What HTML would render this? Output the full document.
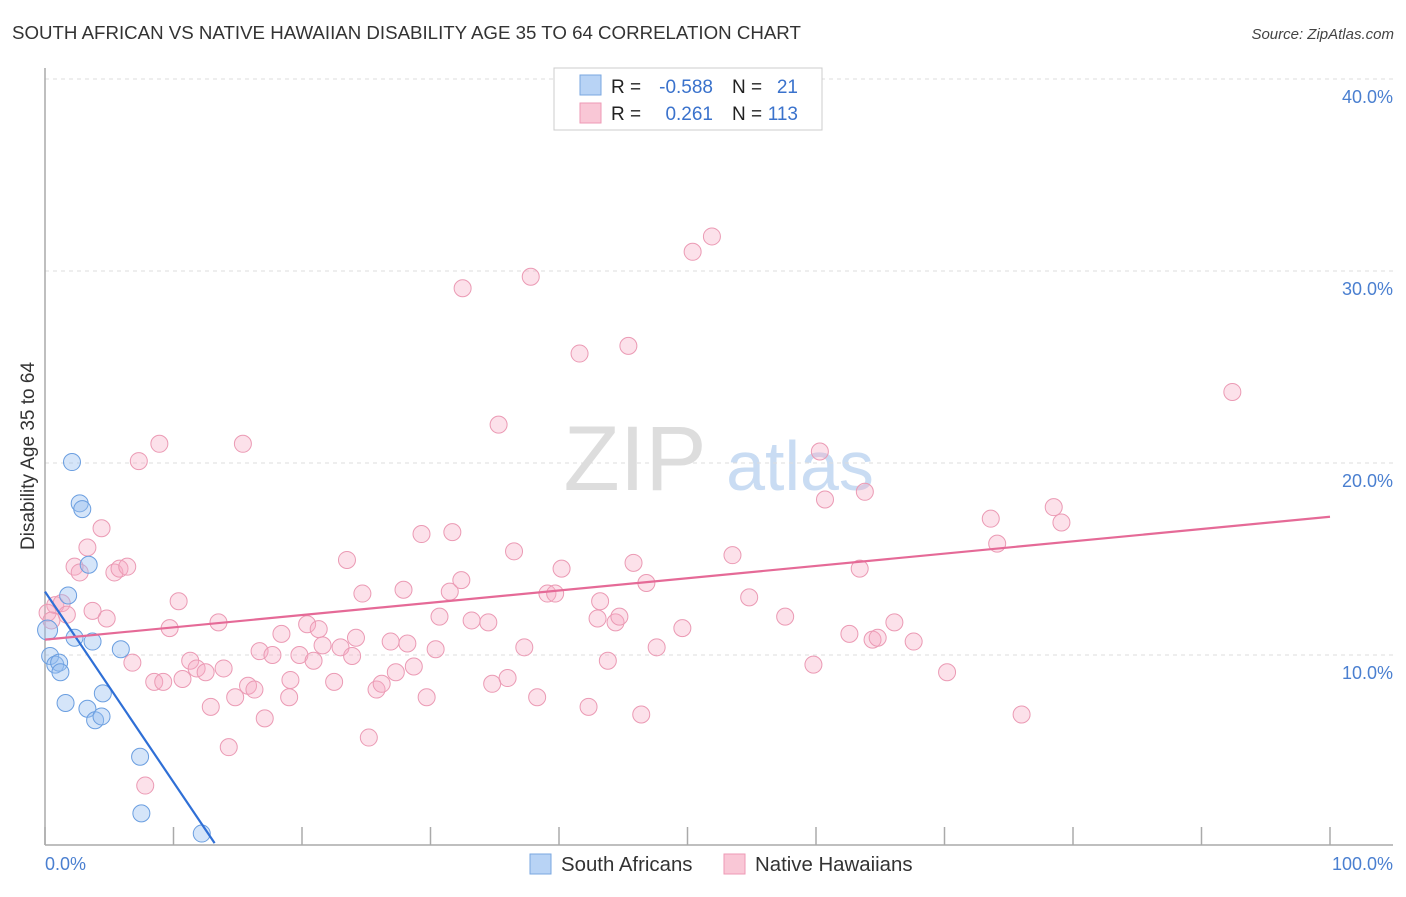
<!DOCTYPE html>
<html><head><meta charset="utf-8"><style>
body{margin:0;background:#fff;font-family:"Liberation Sans",sans-serif}
svg text{font-family:"Liberation Sans",sans-serif}
</style></head><body>
<svg id="chart" width="1406" height="892" viewBox="0 0 1406 892" xmlns="http://www.w3.org/2000/svg">
<text x="12" y="39" font-size="18.7" fill="#333">SOUTH AFRICAN VS NATIVE HAWAIIAN DISABILITY AGE 35 TO 64 CORRELATION CHART</text>
<text x="1394" y="39" font-size="15" fill="#444" text-anchor="end" font-style="italic">Source: ZipAtlas.com</text>
<g>
<text x="635" y="490" font-size="92" fill="#ddd" text-anchor="middle" font-family="Liberation Serif,serif">ZIP</text>
<text x="800" y="490" font-size="70" fill="#c9dcf3" text-anchor="middle">atlas</text>
</g>
<g id="grid"></g>
<g id="axes"></g>
<g id="pts"></g>
<g id="lines"></g>
<text transform="translate(34,456) rotate(-90)" font-size="19" fill="#333" text-anchor="middle">Disability Age 35 to 64</text>
<text x="45" y="870" font-size="18" fill="#4a7fd0">0.0%</text>
<text x="1393" y="870" font-size="18" fill="#4a7fd0" text-anchor="end">100.0%</text>
<g>
<rect x="554" y="68" width="268" height="62" fill="#fff" stroke="#ccc"/>
<rect x="580" y="75" width="21" height="20" fill="#b8d3f5" stroke="#7aa7e0"/>
<rect x="580" y="103" width="21" height="20" fill="#f9c7d6" stroke="#ee9ab5"/>
<text x="611" y="93" font-size="19" fill="#222">R =</text>
<text x="713" y="93" font-size="19" fill="#3a72cc" text-anchor="end">-0.588</text>
<text x="732" y="93" font-size="19" fill="#222">N =</text>
<text x="798" y="93" font-size="19" fill="#3a72cc" text-anchor="end">21</text>
<text x="611" y="120" font-size="19" fill="#222">R =</text>
<text x="713" y="120" font-size="19" fill="#3a72cc" text-anchor="end">0.261</text>
<text x="732" y="120" font-size="19" fill="#222">N =</text>
<text x="798" y="120" font-size="19" fill="#3a72cc" text-anchor="end">113</text>
</g>
<g>
<rect x="530" y="854" width="21" height="20" fill="#b8d3f5" stroke="#7aa7e0"/>
<text x="561" y="871" font-size="20.4" fill="#333">South Africans</text>
<rect x="724" y="854" width="21" height="20" fill="#f9c7d6" stroke="#ee9ab5"/>
<text x="755" y="871" font-size="20.4" fill="#333">Native Hawaiians</text>
</g>
</svg>
<script>
const yTicks=[10,20,30,40];
const yTickLabels=["10.0%","20.0%","30.0%","40.0%"];
const blueX=[2.1,2.7,2.9,3.4,1.8,2.3,3.7,5.9,0.4,0.8,1.1,1.2,4.5,1.6,3.3,3.9,4.4,7.4,7.5,12.2,0.2];
const blueY=[20.05,17.9,17.6,14.7,13.1,10.9,10.7,10.3,9.95,9.5,9.6,9.1,8.0,7.5,7.2,6.6,6.8,4.7,1.75,0.7,11.3];
const pinkX=[8.9,15.4,7.3,4.4,3.3,2.3,2.7,5.4,5.8,6.4,0.8,1.3,1.7,3.7,4.8,10.4,9.7,13.5,6.8,8.5,9.2,10.7,11.3,11.8,12.5,12.9,13.9,14.3,14.8,15.8,16.3,17.1,16.7,17.7,18.4,19.0,19.1,19.8,20.4,20.9,21.3,21.6,22.5,23.0,23.5,23.9,24.2,24.7,25.2,25.8,26.2,26.9,27.3,27.9,28.2,28.7,29.3,29.7,30.4,30.7,31.5,31.7,32.4,32.5,33.2,34.5,34.8,35.3,36.0,36.5,37.3,37.8,38.3,39.1,39.7,40.2,41.6,42.3,43.0,43.2,43.8,44.4,44.7,45.4,45.8,46.4,46.8,47.6,49.6,50.4,51.9,53.5,54.8,57.6,59.8,60.3,60.7,62.6,63.4,63.8,64.4,64.8,66.1,67.6,70.2,73.6,74.1,76.0,78.5,79.1,92.4,0.2,7.8,0.5];
const pinkY=[21.0,21.0,20.1,16.6,15.6,14.6,14.3,14.3,14.5,14.6,12.6,12.7,12.1,12.3,11.9,12.8,11.4,11.7,9.6,8.6,8.6,8.75,9.7,9.3,9.1,7.3,9.3,5.2,7.8,8.4,8.2,6.7,10.2,10.0,11.1,7.8,8.7,10.0,11.6,9.7,11.35,10.5,8.6,10.4,14.95,9.95,10.9,13.2,5.7,8.2,8.5,10.7,9.1,13.4,10.6,9.4,16.3,7.8,10.3,12.0,13.3,16.4,13.9,29.1,11.8,11.7,8.5,22.0,8.8,15.4,10.4,29.7,7.8,13.2,13.2,14.5,25.7,7.3,11.9,12.8,9.7,11.7,12.0,26.1,14.8,6.9,13.75,10.4,11.4,31.0,31.8,15.2,13.0,12.0,9.5,20.6,18.1,11.1,14.5,18.5,10.8,10.9,11.7,10.7,9.1,17.1,15.8,6.9,17.7,16.9,23.7,12.2,3.2,11.8];
const blueTrend=[[0,13.3],[13.2,0.2]];
const pinkTrend=[[0,10.8],[100,17.2]];
const NS="http://www.w3.org/2000/svg";
const xs=v=>45+v*12.85, ys=v=>847-v*19.2;
function mk(t,a,p){const e=document.createElementNS(NS,t);for(const k in a)e.setAttribute(k,a[k]);document.getElementById(p).appendChild(e);return e;}
yTicks.forEach((t,i)=>{
 const l=mk('line',{x1:45,x2:1393,y1:ys(t),y2:ys(t),stroke:'#ddd','stroke-dasharray':'4,4'},'grid');
 
 
 const tx=mk('text',{x:1393,y:ys(t)+24,'font-size':18,fill:'#4a7fd0','text-anchor':'end'},'grid');
 tx.textContent=yTickLabels[i];
 
 
});
const ax=mk('line',{x1:45,x2:45,y1:68,y2:845,stroke:'#aaa','stroke-width':1.5},'axes');


const bx=mk('line',{x1:45,x2:1393,y1:845,y2:845,stroke:'#aaa','stroke-width':1.5},'axes');


for(let i=0;i<=10;i++){const t=mk('line',{x1:xs(i*10),x2:xs(i*10),y1:827,y2:845,stroke:'#aaa','stroke-width':1.5},'axes');
 
 }
pinkX.forEach((x,i)=>{const c=mk('circle',{cx:xs(x),cy:ys(pinkY[i]),r:8.5,fill:'rgba(247,170,195,0.35)',stroke:'#eb9ab4','stroke-width':1},'pts');
 
 });
blueX.forEach((x,i)=>{const c=mk('circle',{cx:xs(x),cy:ys(blueY[i]),r:i==20?10:8.5,fill:'rgba(150,190,240,0.4)',stroke:'#6a9ee0','stroke-width':1},'pts');
 
 });
const bl=mk('line',{x1:xs(blueTrend[0][0]),y1:ys(blueTrend[0][1]),x2:xs(blueTrend[1][0]),y2:ys(blueTrend[1][1]),stroke:'#2f6fd6','stroke-width':2.2},'lines');


const pl=mk('line',{x1:xs(pinkTrend[0][0]),y1:ys(pinkTrend[0][1]),x2:xs(pinkTrend[1][0]),y2:ys(pinkTrend[1][1]),stroke:'#e56a97','stroke-width':2.2},'lines');


</script>
</body></html>
